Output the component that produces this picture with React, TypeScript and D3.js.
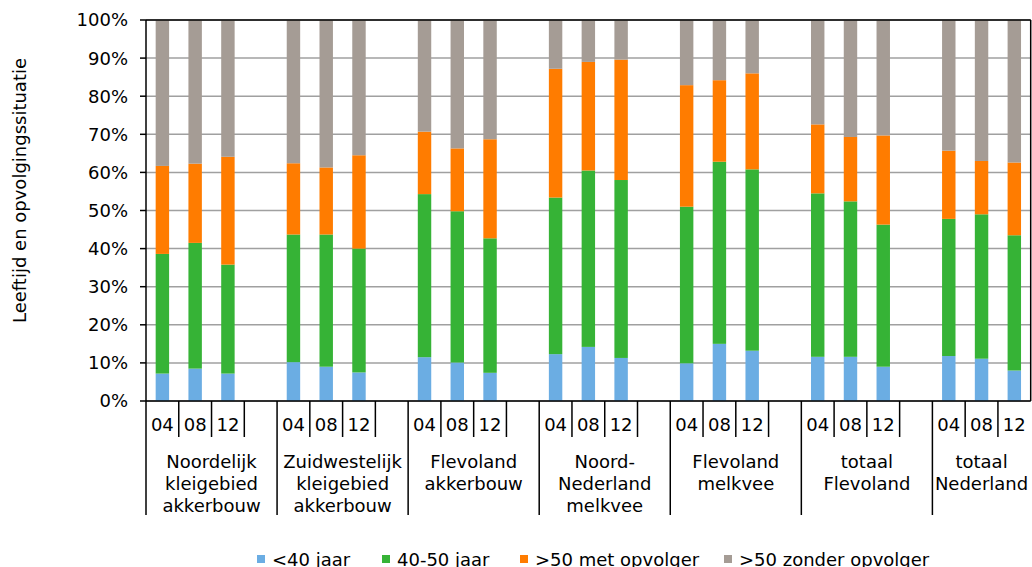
import React from "react";
import * as d3 from "d3";

const groups: string[][] = [
  ["Noordelijk", "kleigebied", "akkerbouw"],
  ["Zuidwestelijk", "kleigebied", "akkerbouw"],
  ["Flevoland", "akkerbouw"],
  ["Noord-", "Nederland", "melkvee"],
  ["Flevoland", "melkvee"],
  ["totaal", "Flevoland"],
  ["totaal", "Nederland"],
];
const years = ["04", "08", "12"];
const seriesNames = ["<40 jaar", "40-50 jaar", ">50 met opvolger", ">50 zonder opvolger"];
const colors = ["#6BADE3", "#36B336", "#FF7C00", "#A59C95"];

// cumulative tops per bar (blue top, green top, orange top), group by group, years 04/08/12
const under40 = [7.2, 8.5, 7.2, 10.2, 9.0, 7.5, 11.5, 10.1, 7.4, 12.3, 14.2, 11.3, 9.9, 15.0, 13.2, 11.6, 11.6, 9.0, 11.8, 11.1, 8.0];
const upTo50 = [38.6, 41.5, 35.8, 43.7, 43.7, 40.0, 54.3, 49.8, 42.7, 53.4, 60.5, 58.0, 51.0, 62.8, 60.8, 54.5, 52.4, 46.3, 47.8, 49.0, 43.5];
const withSuccessor = [61.7, 62.3, 64.1, 62.4, 61.3, 64.5, 70.7, 66.3, 68.7, 87.2, 89.0, 89.6, 82.9, 84.2, 86.0, 72.6, 69.3, 69.7, 65.7, 63.0, 62.6];

const yTicks = [0, 10, 20, 30, 40, 50, 60, 70, 80, 90, 100];

const W = 1032, H = 567;
const left = 146, right = 1030.7, top = 20, bottom = 401;
const FONT = "'DejaVu Sans', Verdana, sans-serif";

export default function App() {
  // slots: 4 per group, last group has 3
  const slots: string[] = [];
  groups.forEach((_, gi) => {
    years.forEach((y) => slots.push(`${gi}-${y}`));
    if (gi < groups.length - 1) slots.push(`${gi}-gap`);
  });
  const x = d3.scaleBand<string>().domain(slots).range([left, right]).padding(0);
  const y = d3.scaleLinear().domain([0, 100]).range([bottom, top]);
  const bw = x.bandwidth() * 0.41;

  const bars: { key: string; vals: number[] }[] = [];
  let k = 0;
  groups.forEach((_, gi) => {
    years.forEach((yr) => {
      const a = under40[k], b = upTo50[k], c = withSuccessor[k];
      bars.push({ key: `${gi}-${yr}`, vals: [a, b - a, c - b, 100 - c] });
      k++;
    });
  });

  const stackData = bars.map((b) => {
    const o: any = { key: b.key };
    seriesNames.forEach((s, i) => (o[s] = b.vals[i]));
    return o;
  });
  const stacked = d3.stack<any>().keys(seriesNames)(stackData);

  const legendX = [257, 382, 520, 724];

  return (
    <svg width={W} height={H} style={{ position: "absolute", left: 0, top: 0, background: "#fff" }} fontFamily={FONT}>
      {/* gridlines */}
      {yTicks.map((t) => (
        <line key={"g" + t} x1={left} x2={right} y1={y(t)} y2={y(t)} stroke="#a0a0a0" strokeWidth={1.5} />
      ))}
      {/* bars */}
      {stacked.map((layer, li) => (
        <g key={layer.key} fill={colors[li]}>
          {layer.map((d: any, i: number) => (
            <rect
              key={i}
              x={(x(d.data.key) as number) + (x.bandwidth() - bw) / 2}
              y={y(d[1])}
              width={bw}
              height={y(d[0]) - y(d[1])}
            />
          ))}
        </g>
      ))}
      {/* plot border top/right */}
      <line x1={left} x2={right} y1={top} y2={top} stroke="#000" strokeWidth={1.5} />
      <line x1={right} x2={right} y1={top} y2={bottom} stroke="#000" strokeWidth={1.5} />
      {/* y axis */}
      <line x1={left} x2={left} y1={top} y2={bottom} stroke="#000" strokeWidth={1.5} />
      {yTicks.map((t) => (
        <g key={"yt" + t}>
          <line x1={left - 6} x2={left} y1={y(t)} y2={y(t)} stroke="#000" strokeWidth={1.5} />
          <text x={128} y={y(t)} dy="0.36em" textAnchor="end" fontSize={18} fill="#000">
            {t}%
          </text>
        </g>
      ))}
      {/* x axis */}
      <line x1={left} x2={right} y1={bottom} y2={bottom} stroke="#000" strokeWidth={1.5} />
      {slots.map((s) => {
        const x0 = x(s) as number;
        const isGroupStart = s.endsWith("-04");
        return (
          <line
            key={"xt" + s}
            x1={x0}
            x2={x0}
            y1={bottom}
            y2={isGroupStart ? 515 : 437}
            stroke="#000"
            strokeWidth={1.5}
          />
        );
      })}
      {slots
        .filter((s) => !s.endsWith("gap"))
        .map((s) => (
          <text
            key={"xl" + s}
            x={(x(s) as number) + x.bandwidth() / 2}
            y={425}
            dy="0.36em"
            textAnchor="middle"
            fontSize={18}
            fill="#000"
          >
            {s.split("-")[1]}
          </text>
        ))}
      {groups.map((lines, gi) => {
        const x0 = x(`${gi}-04`) as number;
        const last = gi < groups.length - 1 ? `${gi}-gap` : `${gi}-12`;
        const x1 = (x(last) as number) + x.bandwidth();
        return (
          <text key={"gl" + gi} x={(x0 + x1) / 2} textAnchor="middle" fontSize={18} fill="#000">
            {lines.map((l, li) => (
              <tspan key={li} x={(x0 + x1) / 2} y={462 + li * 22} dy="0.36em">
                {l}
              </tspan>
            ))}
          </text>
        );
      })}
      {/* y title */}
      <text
        transform={`translate(20,${(top + bottom) / 2 - 20}) rotate(-90)`}
        textAnchor="middle"
        dy="0.36em"
        fontSize={18}
        fill="#000"
      >
        Leeftijd en opvolgingssituatie
      </text>
      {/* legend */}
      {seriesNames.map((s, i) => (
        <g key={"lg" + s}>
          <rect x={legendX[i]} y={555} width={8} height={8} fill={colors[i]} />
          <text x={legendX[i] + 15} y={566} fontSize={18} fill="#000">
            {s}
          </text>
        </g>
      ))}
    </svg>
  );
}
